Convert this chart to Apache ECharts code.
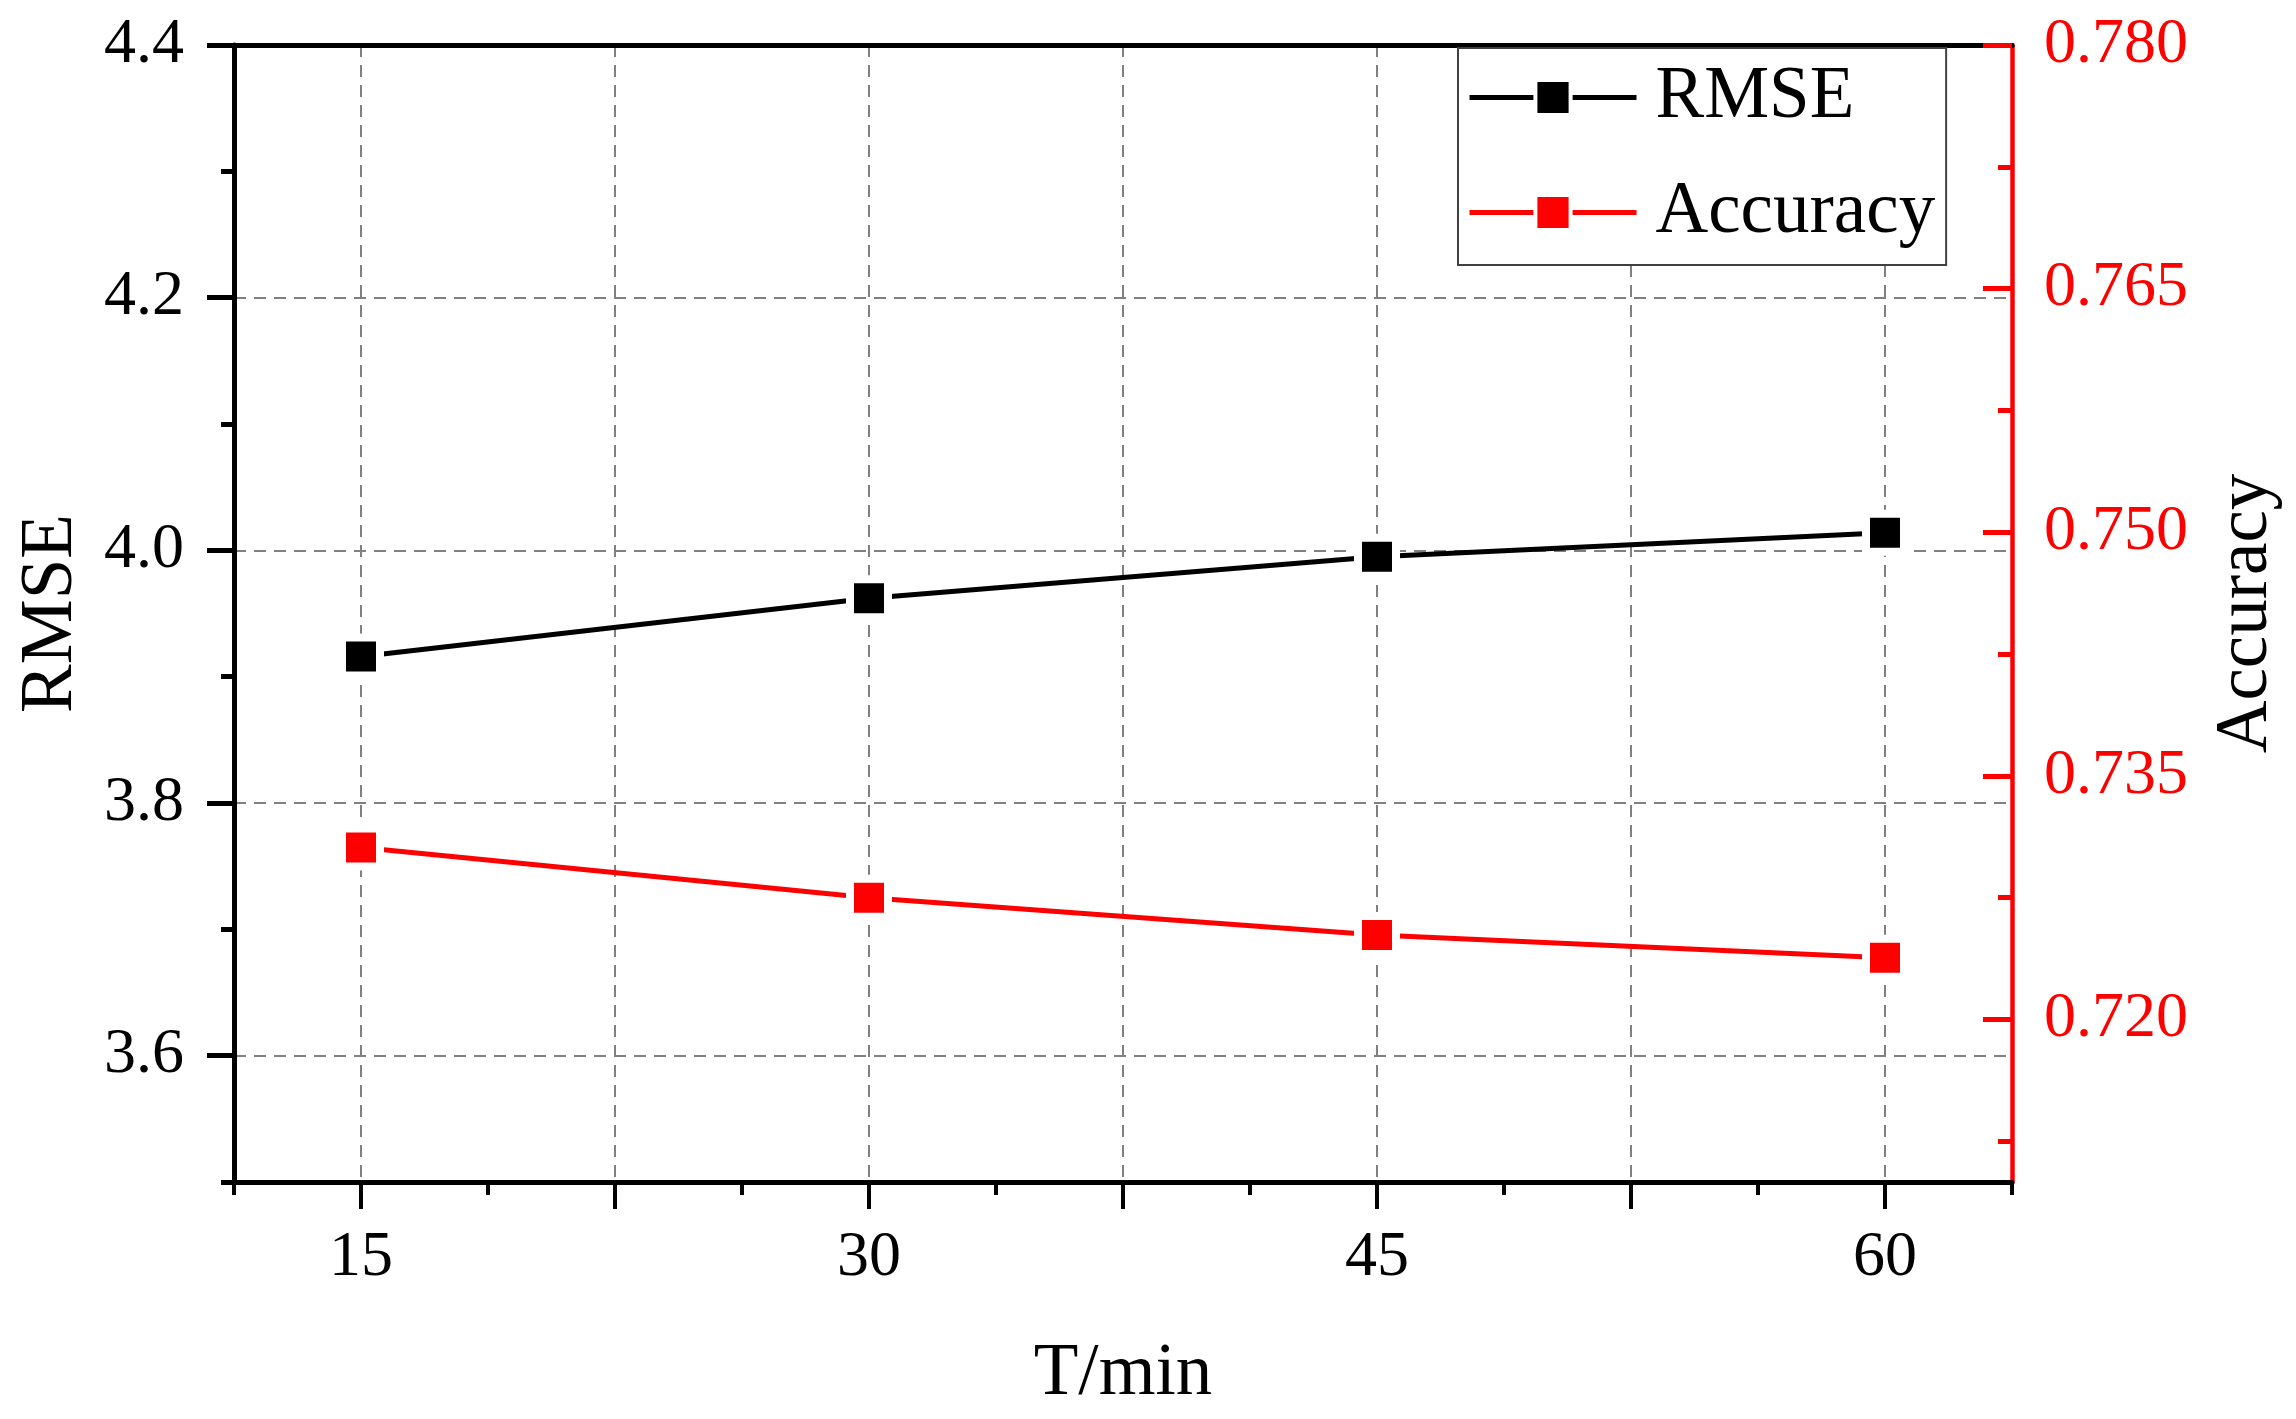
<!DOCTYPE html>
<html lang="en">
<head>
    <meta charset="UTF-8">
    <title>RMSE / Accuracy vs T</title>
    <style type="text/css">
        *{
            margin: 0;
            padding: 0;
        }
        #main{
            width: 2296px;
            height: 1419px;
            position: absolute;
            background: #ffffff;
        }
    </style>
</head>
<body>
    <div id="main"></div>
    <script src="https://cdn.jsdelivr.net/npm/echarts@6/dist/echarts.min.js"></script>
    <script type="text/javascript">
        // data
        var tValues = [15, 30, 45, 60];
        var rmseValues = [3.916, 3.962, 3.995, 4.014];
        var accValues = [0.7306, 0.7275, 0.7252, 0.7238];

        // ticks
        var xMajorTicks = [15, 22.5, 30, 37.5, 45, 52.5, 60];
        var xLabels = [15, 30, 45, 60];
        var rmseTicks = [3.6, 3.8, 4.0, 4.2, 4.4];
        var accTicks = [0.720, 0.735, 0.750, 0.765, 0.780];
        var accMinorTicks = [0.7125, 0.7275, 0.7425, 0.7575, 0.7725];

        var font = 'Liberation Serif';
        var myChart = echarts.init(document.getElementById('main'));

        var gridLine = {
            show: true,
            lineStyle: { color: '#808080', width: 2, type: [12, 8] }
        };

        var option = {
            animation: false,
            backgroundColor: '#ffffff',
            grid: {
                left: 234,
                top: 45,
                right: 284,
                bottom: 237,
                outerBoundsMode: 'none'
            },
            legend: {
                orient: 'vertical',
                left: 1458,
                top: 48,
                padding: [13, 11, 16, 9],
                itemGap: 42,
                itemWidth: 167,
                itemHeight: 44,
                borderColor: '#404040',
                borderWidth: 2,
                backgroundColor: '#ffffff',
                itemStyle: { borderColor: '#ffffff', borderWidth: 4 },
                lineStyle: { width: 5 },
                textStyle: {
                    fontFamily: font,
                    fontSize: 73,
                    color: '#000',
                    padding: [0, 0, 0, 14]
                },
                data: ['RMSE', 'Accuracy']
            },
            xAxis: [
                {
                    type: 'value',
                    position: 'bottom',
                    min: 11.25,
                    max: 63.75,
                    name: 'T/min',
                    nameLocation: 'middle',
                    nameGap: 156,
                    nameTextStyle: { fontFamily: font, fontSize: 73, color: '#000' },
                    axisLine: { show: true, onZero: false, lineStyle: { color: '#000', width: 5 } },
                    axisTick: { show: true, length: 27, customValues: xMajorTicks, lineStyle: { color: '#000', width: 4 } },
                    axisLabel: {
                        customValues: xLabels,
                        margin: 44,
                        fontFamily: font,
                        fontSize: 64,
                        color: '#000'
                    },
                    splitLine: gridLine
                },
                {
                    type: 'value',
                    position: 'bottom',
                    min: 11.25,
                    max: 63.75,
                    interval: 3.75,
                    axisLine: { show: false, onZero: false },
                    axisTick: { show: true, length: 13, lineStyle: { color: '#000', width: 4 } },
                    axisLabel: { show: false },
                    splitLine: { show: false }
                },
                {
                    type: 'value',
                    position: 'top',
                    min: 11.25,
                    max: 63.75,
                    axisLine: { show: true, onZero: false, lineStyle: { color: '#000', width: 5 } },
                    axisTick: { show: false },
                    axisLabel: { show: false },
                    splitLine: { show: false }
                }
            ],
            yAxis: [
                {
                    type: 'value',
                    position: 'left',
                    min: 3.5,
                    max: 4.4,
                    name: 'RMSE',
                    nameLocation: 'middle',
                    nameGap: 146,
                    nameTextStyle: { fontFamily: font, fontSize: 73, color: '#000' },
                    axisLine: { show: true, onZero: false, lineStyle: { color: '#000', width: 5 } },
                    axisTick: { show: true, length: 27, customValues: rmseTicks, lineStyle: { color: '#000', width: 5 } },
                    axisLabel: {
                        customValues: rmseTicks,
                        margin: 50,
                        fontFamily: font,
                        fontSize: 64,
                        color: '#000',
                        formatter: function (v) { return v.toFixed(1); }
                    },
                    splitLine: gridLine
                },
                {
                    type: 'value',
                    position: 'left',
                    min: 3.5,
                    max: 4.4,
                    interval: 0.1,
                    axisLine: { show: false, onZero: false },
                    axisTick: { show: true, length: 13, lineStyle: { color: '#000', width: 5 } },
                    axisLabel: { show: false },
                    splitLine: { show: false }
                },
                {
                    type: 'value',
                    position: 'right',
                    min: 0.71,
                    max: 0.78,
                    name: 'Accuracy',
                    nameLocation: 'middle',
                    nameGap: 198,
                    nameTextStyle: { fontFamily: font, fontSize: 73, color: '#000' },
                    axisLine: { show: true, onZero: false, lineStyle: { color: '#ff0000', width: 4.5 } },
                    axisTick: { show: true, inside: true, length: 29, customValues: accTicks, lineStyle: { color: '#ff0000', width: 5 } },
                    axisLabel: {
                        customValues: accTicks,
                        margin: 32,
                        fontFamily: font,
                        fontSize: 64,
                        color: '#ff0000',
                        formatter: function (v) { return v.toFixed(3); }
                    },
                    splitLine: { show: false }
                },
                {
                    type: 'value',
                    position: 'right',
                    min: 0.71,
                    max: 0.78,
                    axisLine: { show: false, onZero: false },
                    axisTick: { show: true, inside: true, length: 14, customValues: accMinorTicks, lineStyle: { color: '#ff0000', width: 5 } },
                    axisLabel: { show: false },
                    splitLine: { show: false }
                }
            ],
            series: [
                {
                    name: 'RMSE',
                    type: 'line',
                    xAxisIndex: 0,
                    yAxisIndex: 0,
                    symbol: 'rect',
                    symbolSize: 38,
                    lineStyle: { color: '#000', width: 5 },
                    itemStyle: { color: '#000', borderColor: '#ffffff', borderWidth: 8 },
                    data: tValues.map(function (t, i) { return [t, rmseValues[i]]; })
                },
                {
                    name: 'Accuracy',
                    type: 'line',
                    xAxisIndex: 0,
                    yAxisIndex: 2,
                    symbol: 'rect',
                    symbolSize: 38,
                    lineStyle: { color: '#ff0000', width: 5 },
                    itemStyle: { color: '#ff0000', borderColor: '#ffffff', borderWidth: 8 },
                    data: tValues.map(function (t, i) { return [t, accValues[i]]; })
                }
            ]
        };

        myChart.setOption(option);
    </script>
</body>
</html>
